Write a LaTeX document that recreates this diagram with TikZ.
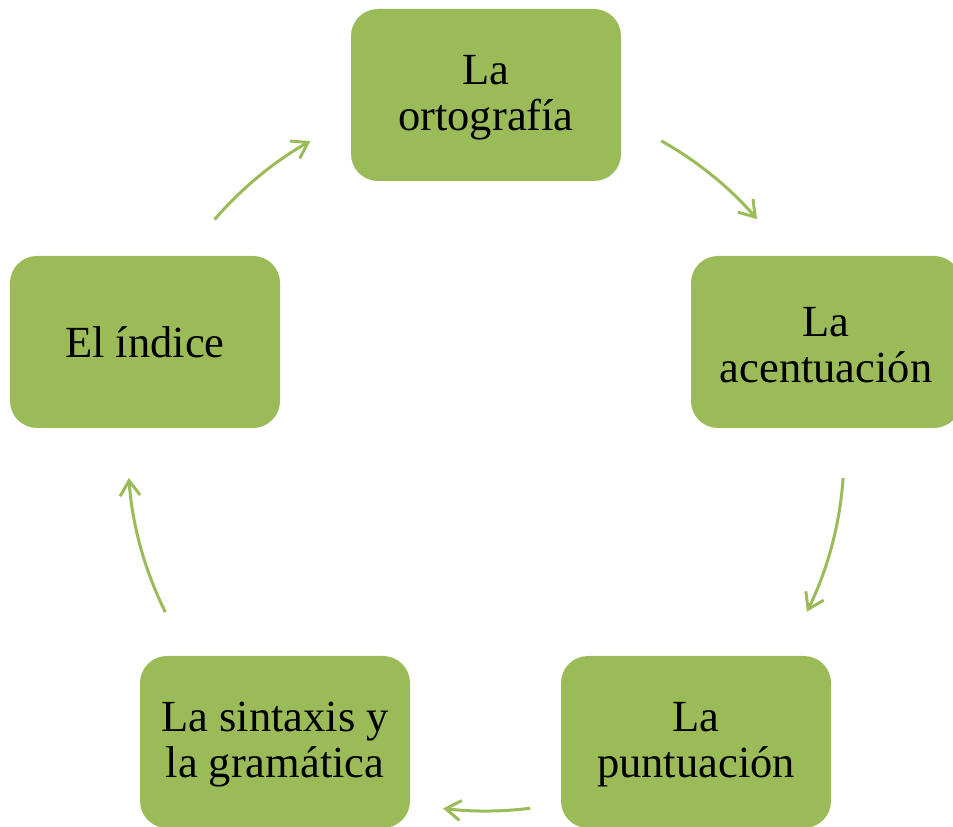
\documentclass[tikz,border=0pt]{standalone}
\usepackage{fontspec}
\setmainfont{Liberation Serif}
\usetikzlibrary{arrows.meta}
\definecolor{boxgreen}{HTML}{9BBB59}
\begin{document}
\begin{tikzpicture}[x=1pt,y=1pt,
  box/.style={fill=boxgreen, rounded corners=27pt, minimum width=270pt, minimum height=172pt,
    align=center, inner sep=0pt, font=\fontsize{44.5}{46}\selectfont},
  txt/.style={align=center, inner sep=0pt, font=\fontsize{44.5}{46}\selectfont, yshift=-3pt},
  cyc/.style={draw=boxgreen, line width=3pt, -{Straight Barb[length=15pt,width=20pt]}}]
\useasboundingbox (0,0) rectangle (953,827);
\coordinate (C) at (486,374);
\node[box, label={[txt]center:La\\ortografía}] (ort) at (486,732) {};
\node[box, label={[txt]center:La\\acentuación}] (acen) at (826,485) {};
\node[box, label={[txt]center:La\\puntuación}] (punt) at (696,85) {};
\node[box, label={[txt]center:La sintaxis y\\la gramática}] (sint) at (275,85) {};
\node[box] (ind) at (145,485) {El índice};
\path (C) ++(60.7:358) coordinate (a1);
\path (C) ++(-4:358) coordinate (a2);
\path (C) ++(-82.9:358) coordinate (a3);
\path (C) ++(206.4:358) coordinate (a4);
\path (C) ++(139.3:358) coordinate (a5);
\draw[cyc] (a1) arc[start angle=60.7, end angle=40.8, radius=358];
\draw[cyc] (a2) arc[start angle=-4, end angle=-26.3, radius=358];
\draw[cyc] (a3) arc[start angle=-82.9, end angle=-96.9, radius=358];
\draw[cyc] (a4) arc[start angle=206.4, end angle=184, radius=358];
\draw[cyc] (a5) arc[start angle=139.3, end angle=119.4, radius=358];
\end{tikzpicture}
\end{document}
